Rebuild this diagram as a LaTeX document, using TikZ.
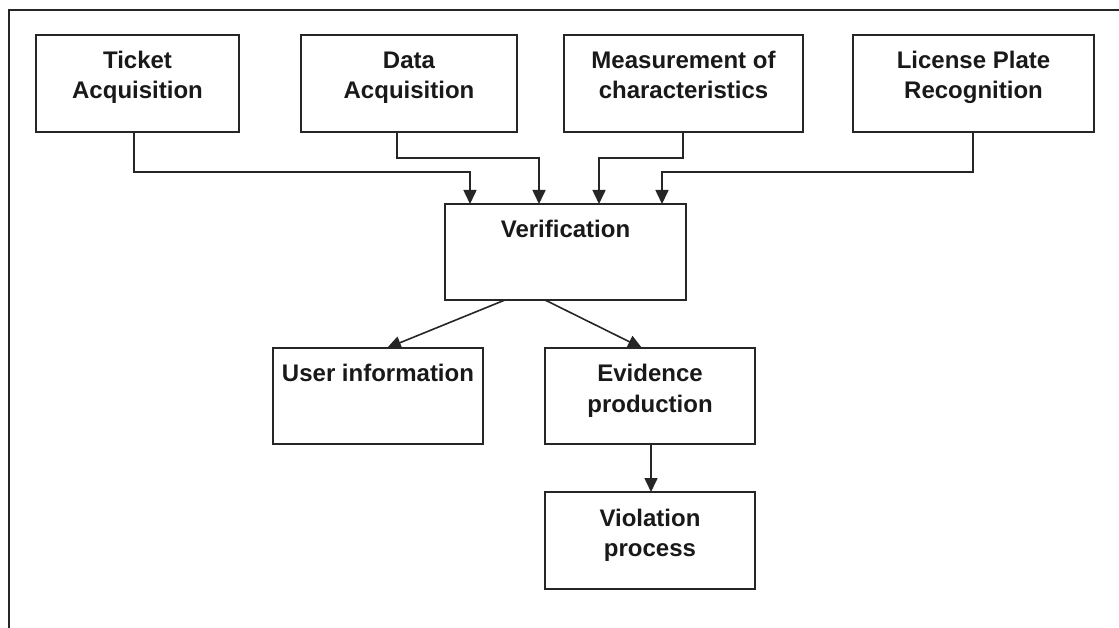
\documentclass[tikz,border=0pt]{standalone}
\usepackage{fontspec}
\setmainfont{Liberation Sans}
\usetikzlibrary{arrows.meta}
\newcommand{\boxtxt}[3]{\parbox[c][#2pt][t]{#1pt}{\centering\vspace*{13pt}\strut #3}}
\begin{document}
\begin{tikzpicture}[x=1pt,y=-1pt,
  box/.style={draw=black!85, line width=2pt, inner sep=0pt, outer sep=0pt,
    font=\fontsize{24}{30}\selectfont\bfseries, text=black!90},
  conn/.style={draw=black!85, line width=1.6pt, -{Triangle[length=14pt,width=13pt]}},
  frame/.style={draw=black!85, line width=2pt}]
\useasboundingbox (0,0) rectangle (1119,628);
\draw[frame] (9,629) -- (9,10) -- (1120,10);

\node[box] (ticket) at (137.5,83.5) {\boxtxt{203}{97}{Ticket\\Acquisition}};
\node[box] (data)   at (409,83.5)   {\boxtxt{216}{97}{Data\\Acquisition}};
\node[box] (meas)   at (683.5,83.5) {\boxtxt{239}{97}{Measurement of\\characteristics}};
\node[box] (lpr)    at (973.5,83.5) {\boxtxt{241}{97}{License Plate\\Recognition}};
\node[box] (verif)  at (565.5,252)  {\boxtxt{241}{96}{Verification}};
\node[box] (user)   at (378,396)    {\boxtxt{210}{96}{User information}};
\node[box] (evid)   at (650,396)    {\boxtxt{210}{96}{Evidence\\production}};
\node[box] (viol)   at (650,540.5)  {\boxtxt{210}{97}{Violation\\process}};

\draw[conn] ([xshift=-3.5pt]ticket.south) -- ++(0,40) -| ([xshift=-95.5pt]verif.north);
\draw[conn] ([xshift=-12pt]data.south) -- ++(0,26) -| ([xshift=-26.5pt]verif.north);
\draw[conn] ([xshift=-0.5pt]meas.south) -- ++(0,26) -| ([xshift=33.5pt]verif.north);
\draw[conn] ([xshift=-0.5pt]lpr.south) -- ++(0,40) -| ([xshift=96.5pt]verif.north);

\draw[conn] ([xshift=-60.5pt]verif.south) -- ([xshift=9pt]user.north);
\draw[conn] ([xshift=-20.5pt]verif.south) -- ([xshift=-8pt]evid.north);
\draw[conn] ([xshift=1pt]evid.south) -- ([xshift=1pt]viol.north);
\end{tikzpicture}
\end{document}
